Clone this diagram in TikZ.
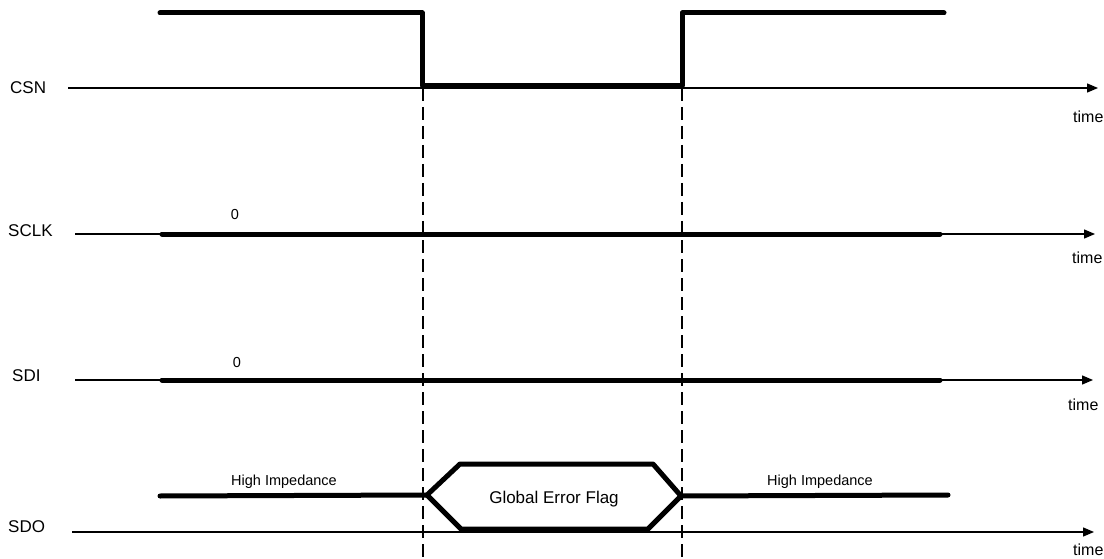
\documentclass[tikz,border=0pt]{standalone}
\usepackage{fontspec}
\setmainfont{Liberation Sans}
\usetikzlibrary{arrows.meta}
\begin{document}
\begin{tikzpicture}[x=1pt,y=-1pt,
  axis/.style={line width=1.3pt,-{Triangle[length=11pt,width=9pt]}},
  sig/.style={line width=5pt,line cap=round,line join=round},
  guide/.style={line width=1.3pt,dash pattern=on 13pt off 6pt},
  lbl/.style={anchor=base west,inner sep=0pt,font=\fontsize{17}{17}\selectfont},
  tlbl/.style={anchor=base west,inner sep=0pt,font=\fontsize{16}{16}\selectfont},
  small/.style={anchor=base,inner sep=0pt,font=\fontsize{14.5}{14.5}\selectfont},
  mid/.style={anchor=base,inner sep=0pt,font=\fontsize{17}{17}\selectfont}]
\useasboundingbox (0,0) rectangle (1104,559);
% labels
\node[lbl] (csn) at (10,94) {CSN};
\node[lbl] (sclk) at (8,236.5) {SCLK};
\node[lbl] (sdi) at (12,381) {SDI};
\node[lbl] (sdo) at (8,532) {SDO};
% axes
\coordinate (a1s) at (68,88);  \coordinate (a1e) at (1098,88);
\coordinate (a2s) at (75,234); \coordinate (a2e) at (1095,234);
\coordinate (a3s) at (75,380); \coordinate (a3e) at (1093,380);
\coordinate (a4s) at (72,532); \coordinate (a4e) at (1094,532);
\draw[axis] (a1s) -- (a1e);
\draw[axis] (a2s) -- (a2e);
\draw[axis] (a3s) -- (a3e);
\draw[axis] (a4s) -- (a4e);
\node[tlbl] (t1) at (1073,123) {time};
\node[tlbl] (t2) at (1072,263) {time};
\node[tlbl] (t3) at (1068,410) {time};
\node[tlbl] (t4) at (1073,555) {time};
% guides
\coordinate (g1t) at (423,88); \coordinate (g1b) at (423,559);
\coordinate (g2t) at (682,88); \coordinate (g2b) at (682,559);
\draw[guide] (g1t) -- (g1b);
\draw[guide] (g2t) -- (g2b);
% CSN
\draw[sig] (160,13) -- (422,13) -- (422,86) -- (682,86) -- (682,13) -- (944,13);
% SCLK, SDI
\draw[sig] (162,234) -- (940,234);
\node[small] (z1) at (235,219) {0};
\draw[sig] (162,380) -- (940,380);
\node[small] (z2) at (237,367) {0};
% SDO
\draw[sig] (160,496) -- (427,495);
\draw[sig] (427,495) -- (460,464) -- (653,464) -- (681,496) -- (648,529) -- (461,529) -- cycle;
\draw[sig] (681,496) -- (948,495);
\node[small] (hz1) at (284,485.5) {High Impedance};
\node[small] (hz2) at (820,485.5) {High Impedance};
\node[mid] (gef) at (554,503.5) {Global Error Flag};
\end{tikzpicture}
\end{document}
